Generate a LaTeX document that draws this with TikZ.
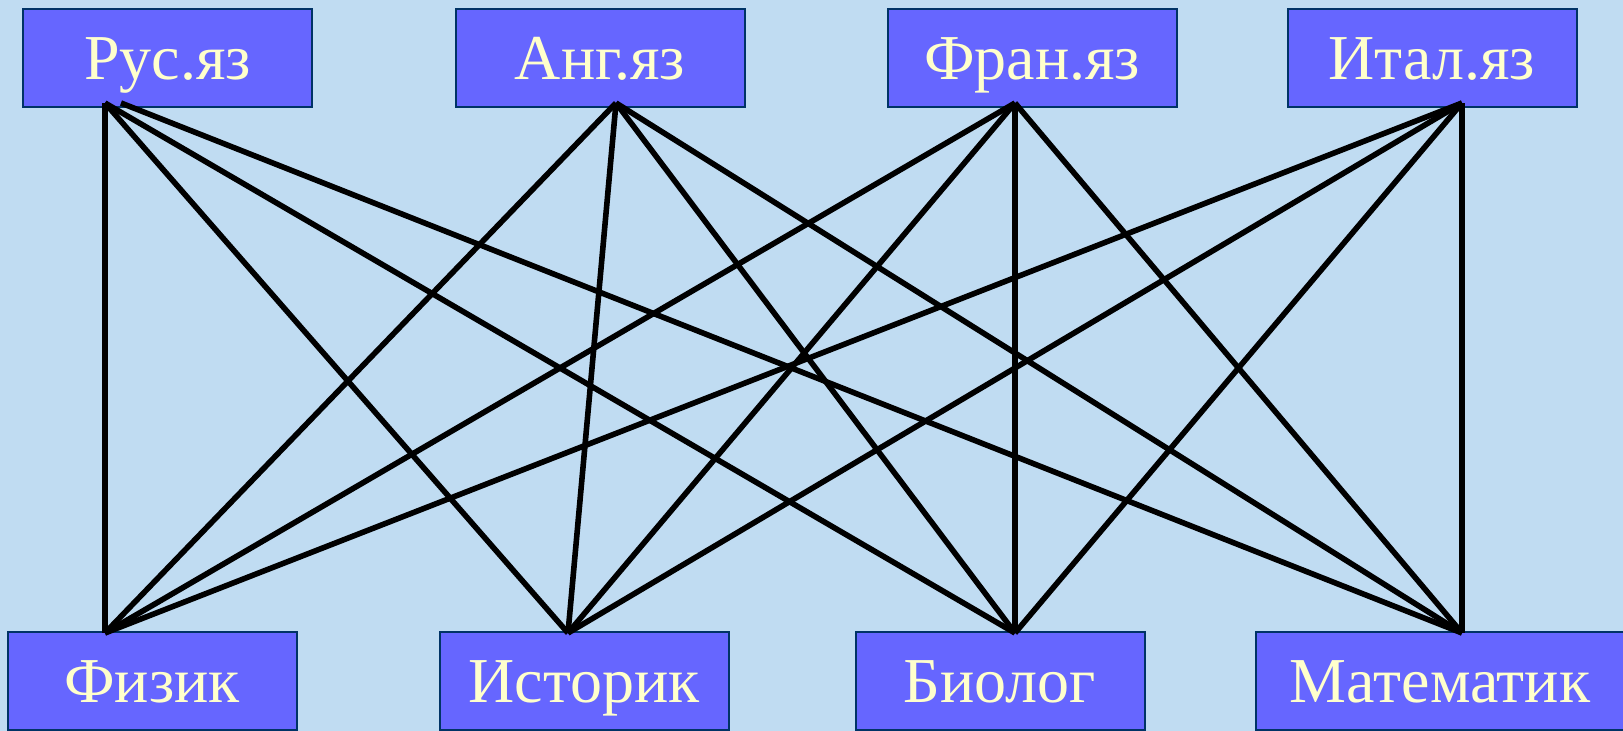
\documentclass[tikz,border=0pt]{standalone}
\usepackage{fontspec}
\setmainfont{Liberation Serif}
\definecolor{bgblue}{RGB}{192,220,242}
\definecolor{boxfill}{RGB}{102,102,255}
\definecolor{boxedge}{RGB}{0,51,102}
\definecolor{cream}{RGB}{255,255,204}
\begin{document}
\begin{tikzpicture}[x=1pt,y=-1pt,
  subjbox/.style={draw=boxedge,line width=2pt,fill=boxfill,inner sep=0pt,outer sep=0pt,
    minimum height=98.5pt,text=cream,font=\fontsize{64}{64}\selectfont},
  lbl/.style={anchor=base,text=cream,font=\fontsize{64}{64}\selectfont,inner sep=0pt},
  link/.style={line width=5.6pt,black,line cap=butt}]
\fill[bgblue] (0,0) rectangle (1623,731);
\useasboundingbox (0,0) rectangle (1623,731);
% top boxes
\node[subjbox,minimum width=289pt] (rus) at (167.5,57.75) {};
\node[subjbox,minimum width=289pt] (ang) at (600,57.75) {};
\node[subjbox,minimum width=289pt] (fra) at (1032,57.75) {};
\node[subjbox,minimum width=289pt] (ita) at (1432,57.75) {};
% bottom boxes
\node[subjbox,minimum width=289pt] (fiz) at (152,681) {};
\node[subjbox,minimum width=289pt] (ist) at (584,681) {};
\node[subjbox,minimum width=289pt] (bio) at (1000,681) {};
\node[subjbox,minimum width=368pt] (mat) at (1440,681) {};
% labels
\node[lbl] (trus) at (167.5,79) {Рус.яз};
\node[lbl] (tang) at (600,79) {Анг.яз};
\node[lbl] (tfra) at (1032,79) {Фран.яз};
\node[lbl] (tita) at (1432,79) {Итал.яз};
\node[lbl] (tfiz) at (152,702) {Физик};
\node[lbl] (tist) at (584,702) {Историк};
\node[lbl] (tbio) at (1000,702) {Биолог};
\node[lbl] (tmat) at (1440,702) {Математик};
% connection points
\coordinate (pr) at (105,103);
\coordinate (pr2) at (121,103);
\coordinate (pa) at (616,103);
\coordinate (pf) at (1015,103);
\coordinate (pi) at (1462,103);
\coordinate (qf) at (105,633);
\coordinate (qi) at (568,633);
\coordinate (qb) at (1015,633);
\coordinate (qm) at (1462,633);
% links
\draw[link] (pr) -- (qf);
\draw[link] (pr) -- (qi);
\draw[link] (pr) -- (qb);
\draw[link] (pr2) -- (qm);
\foreach \t in {pa,pf,pi}{
  \foreach \b in {qf,qi,qb,qm}{
    \draw[link] (\t) -- (\b);
  }
}
\end{tikzpicture}
\end{document}
